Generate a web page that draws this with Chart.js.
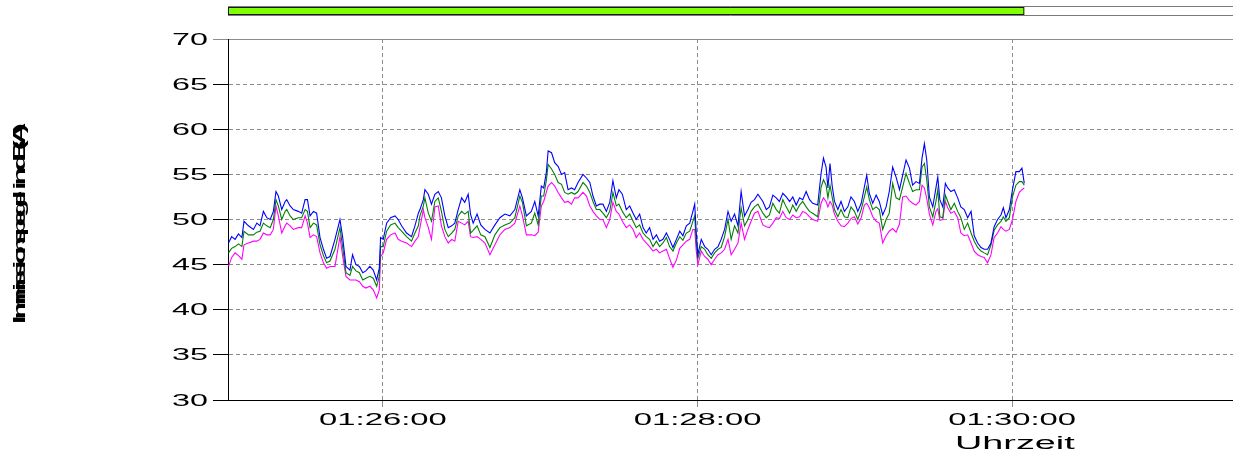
<!DOCTYPE html>
<html>
<head>
<meta charset="utf-8">
<title>Immissionspegel</title>
<script src="https://cdn.jsdelivr.net/npm/chart.js@4.4.1/dist/chart.umd.min.js"></script>
<style>
  html, body { margin: 0; padding: 0; background: #ffffff; }
  canvas { display: block; }
</style>
</head>
<body>
<canvas id="chart" width="1233" height="456"></canvas>
<script>
// Clock time of second 0 on the x axis
const baseTime = '01:25:00';

// Measurement times, seconds after baseTime
const seconds = [
  1.1, 2.3, 3.6, 4.9, 6.2, 7.0, 8.7, 10.6, 11.9, 13.1, 14.4, 15.7, 17.0, 18.2, 19.2, 20.1,
  21.4, 22.7, 23.3, 24.6, 25.8, 27.7, 29.0, 30.3, 31.2, 32.2, 33.5, 34.7, 36.0, 37.3, 38.5,
  39.8, 41.7, 43.6, 44.6, 45.9, 47.4, 48.4, 49.7, 51.0, 52.3, 53.5, 55.0, 56.3, 57.6, 58.6,
  59.1, 60.1, 61.4, 62.9, 64.6, 65.8, 67.1, 69.0, 70.9, 72.2, 73.5,
  74.1, 75.4, 76.0, 77.3, 78.5, 79.8, 81.1, 82.3, 83.6, 84.9, 86.2, 87.4, 88.7, 90.0, 91.2,
  92.5, 93.4, 94.4, 95.9, 97.3, 98.9, 100.8, 102.7, 104.6, 106.5, 108.4, 110.3, 112.2, 113.2,
  114.7, 116.6, 117.9, 119.2, 120.4, 121.3, 122.3, 123.0, 124.3, 125.5, 126.8, 128.1, 129.3,
  130.6, 131.9, 133.1, 134.4, 136.3, 137.6, 138.9, 140.1, 141.4, 142.7,
  143.9, 145.2, 146.5, 147.7, 149.0, 150.0, 151.3, 152.8, 154.1, 155.4, 156.6, 157.9, 159.2,
  160.4, 161.7, 163.0, 164.3, 165.5, 166.8, 168.1, 169.3, 170.6, 171.9, 173.2, 174.4, 175.7,
  177.0, 178.2, 178.9, 179.5, 180.1, 181.4, 182.7, 183.9, 185.2, 186.5, 187.8, 189.0, 190.3,
  191.6, 192.8, 194.1, 195.4, 196.6, 197.9, 199.2, 200.4, 201.7, 203.0,
  204.9, 206.2, 207.4, 208.7, 210.0, 211.2, 212.5, 213.8, 215.1, 216.3, 217.6, 218.9, 220.1,
  221.4, 222.7, 223.9, 225.8, 227.1, 228.0, 229.0, 229.7, 230.5, 231.3, 232.2, 233.5, 234.7,
  236.0, 237.3, 238.5, 239.8, 241.1, 242.4, 243.6, 244.5, 245.5, 246.8, 248.1, 249.3, 250.6,
  251.9, 253.1, 254.4, 255.7, 257.0, 258.2, 259.5, 260.8, 262.0, 263.3, 264.6, 265.6, 266.5,
  267.4, 268.4, 269.7, 270.9, 271.6, 272.4, 273.5, 274.5, 275.4, 276.6, 277.9, 279.2, 280.4,
  281.7, 283.0, 284.3, 285.5, 286.8, 288.1, 289.3, 290.6, 291.9, 293.1, 294.4, 295.7, 296.6,
  297.6, 298.9, 300.1, 301.4, 302.7, 303.7, 304.6
];

// Level, blue trace (dB(A))
const levelBlue = [
  47.4, 48.1, 47.8, 48.4, 48.0, 49.8, 49.3, 48.9, 49.6, 49.3, 50.9, 50.2, 50.0, 50.9, 53.1, 52.6,
  51.1, 52.0, 52.2, 51.5, 51.1, 50.9, 50.7, 52.2, 52.2, 50.4, 50.9, 50.7, 48.0, 46.7, 45.7,
  45.9, 47.8, 50.0, 48.1, 44.8, 44.4, 46.1, 45.0, 44.8, 44.1, 44.3, 44.8, 44.4, 43.3, 44.6,
  48.0, 47.8, 49.6, 50.2, 50.4, 50.0, 49.3, 48.5, 48.1, 49.3, 50.7,
  51.1, 52.2, 53.3, 52.8, 51.7, 52.8, 53.1, 52.4, 50.4, 49.1, 49.3, 49.6, 51.1, 52.4, 51.9,
  52.8, 50.6, 49.6, 50.6, 49.4, 48.9, 48.5, 49.4, 50.2, 50.6, 50.4, 51.1, 53.3, 52.4,
  50.4, 50.9, 52.0, 50.4, 53.7, 53.5, 55.2, 57.6, 57.4, 56.3, 55.9, 55.0, 55.2,
  53.3, 53.5, 53.3, 54.1, 55.0, 54.6, 54.1, 52.6, 51.5, 51.7,
  51.7, 50.9, 51.9, 54.3, 52.4, 53.3, 52.8, 51.1, 51.5, 50.7, 50.0, 50.6, 49.1,
  48.5, 49.1, 47.8, 48.3, 47.6, 47.8, 48.5, 47.8, 46.9, 47.8, 48.7, 48.2, 49.3,
  49.6, 50.9, 51.7, 48.5, 46.1, 47.8, 47.0, 46.7, 46.1, 46.7, 47.0, 47.8, 48.9,
  50.9, 49.8, 50.6, 49.3, 53.1, 50.4, 51.1, 51.9, 52.2, 52.8,
  52.0, 51.1, 51.4, 52.7, 52.4, 52.0, 52.9, 52.5, 52.0, 52.5, 51.6, 52.4, 52.2,
  53.1, 52.2, 51.8, 51.6, 55.1, 56.8, 55.8, 53.5, 56.2, 53.8, 52.0, 51.1, 52.0,
  50.9, 51.4, 52.5, 52.0, 50.9, 51.8, 53.6, 54.9, 52.9, 51.8, 52.7, 52.0, 50.5,
  51.4, 53.1, 55.8, 54.7, 53.3, 54.9, 56.6, 55.7, 53.8, 54.2, 54.0, 56.8, 58.4,
  56.6, 52.5, 51.4, 53.5, 54.7, 52.2, 51.4, 54.0, 53.5, 53.1, 53.3, 52.4, 51.4,
  51.1, 50.2, 50.9, 48.2, 47.4, 46.9, 46.7, 46.7, 47.4, 49.2, 50.0, 50.5, 51.3,
  50.2, 51.1, 53.3, 55.3, 55.3, 55.7, 54.0
];

// Level, green trace (dB(A))
const levelGreen = [
  46.3, 46.8, 47.0, 47.3, 47.0, 48.7, 48.3, 48.3, 48.6, 48.7, 49.6, 49.3, 49.1, 50.0, 52.2, 51.5,
  50.0, 50.9, 51.1, 50.4, 50.0, 50.2, 50.2, 51.1, 50.9, 49.1, 49.6, 49.4, 47.2, 46.0, 45.2,
  45.4, 46.7, 49.1, 47.0, 44.1, 43.8, 44.8, 44.3, 44.1, 43.3, 43.5, 43.7, 43.5, 42.6, 43.7,
  47.0, 47.0, 48.7, 49.4, 49.6, 49.1, 48.7, 48.1, 47.6, 48.5, 49.3,
  50.4, 51.5, 52.4, 50.7, 49.8, 52.0, 52.4, 50.9, 48.9, 48.1, 48.5, 48.9, 50.4, 50.9, 50.6,
  50.9, 48.5, 48.8, 49.3, 48.3, 48.1, 46.9, 48.3, 49.1, 49.4, 49.6, 50.2, 52.6, 51.9,
  49.3, 49.6, 50.7, 49.4, 52.6, 52.6, 54.3, 56.1, 55.6, 55.0, 54.1, 53.9, 53.0,
  52.8, 53.0, 52.8, 53.1, 54.1, 53.7, 53.0, 52.0, 51.1, 51.1,
  50.7, 50.2, 50.9, 53.0, 51.5, 51.7, 50.9, 50.2, 50.6, 49.8, 49.1, 49.4, 48.5,
  48.1, 47.8, 47.0, 47.6, 47.0, 47.4, 48.0, 47.0, 46.5, 47.4, 48.1, 47.7, 48.5,
  48.7, 49.8, 50.4, 47.4, 45.7, 47.0, 46.7, 46.1, 45.7, 46.3, 46.7, 46.9, 48.1,
  50.0, 47.8, 49.3, 48.5, 51.3, 49.3, 50.0, 50.9, 51.4, 51.7,
  50.7, 50.2, 50.5, 51.8, 51.1, 50.7, 52.2, 51.4, 50.7, 51.6, 50.9, 51.6, 52.0,
  51.4, 50.9, 50.7, 50.3, 53.6, 54.4, 53.8, 52.4, 53.8, 52.5, 51.1, 50.3, 51.1,
  50.3, 50.2, 51.4, 50.9, 50.0, 51.1, 52.5, 53.6, 52.2, 51.1, 51.4, 51.1, 48.9,
  50.0, 50.7, 54.0, 52.4, 52.2, 53.6, 55.1, 54.0, 53.1, 53.3, 53.3, 55.8, 56.2,
  54.4, 51.4, 50.3, 52.0, 53.3, 50.3, 50.2, 52.7, 52.0, 51.1, 51.8, 50.9, 50.2,
  48.9, 49.6, 48.5, 47.6, 46.9, 46.5, 46.3, 46.1, 47.2, 48.8, 49.4, 49.8, 50.3,
  49.8, 50.2, 52.5, 53.8, 54.2, 54.2, 53.8
];

// Level, magenta trace (dB(A))
const levelMagenta = [
  44.8, 45.8, 46.3, 46.0, 45.6, 47.2, 47.4, 47.6, 47.6, 47.8, 48.5, 48.3, 48.3, 48.9, 51.5, 50.4,
  48.5, 49.3, 49.6, 49.3, 48.9, 49.1, 49.1, 50.4, 49.6, 48.0, 48.3, 48.1, 46.3, 45.2, 44.6,
  44.8, 44.8, 48.1, 46.0, 43.7, 43.3, 43.3, 43.3, 43.1, 42.6, 42.4, 42.6, 42.2, 41.3, 42.2,
  45.9, 46.3, 47.8, 48.3, 48.5, 47.8, 47.6, 47.4, 47.0, 47.6, 48.1,
  49.1, 51.1, 50.2, 49.1, 47.8, 51.4, 51.5, 49.3, 48.1, 47.4, 47.8, 47.6, 49.8, 49.6, 49.4,
  49.8, 48.1, 48.0, 48.1, 47.8, 47.4, 46.1, 47.2, 48.3, 48.9, 49.1, 49.6, 51.5, 50.4,
  48.3, 48.3, 48.2, 48.6, 51.5, 52.0, 53.0, 53.7, 54.1, 53.7, 53.0, 52.4, 51.9,
  52.0, 51.7, 52.4, 52.4, 53.0, 52.6, 51.5, 50.9, 50.4, 50.0,
  50.0, 49.1, 50.0, 51.9, 50.9, 50.6, 49.8, 49.1, 49.4, 48.9, 48.0, 48.5, 47.8,
  47.4, 47.0, 46.5, 46.7, 46.3, 46.5, 46.7, 45.7, 44.7, 45.5, 46.8, 47.2, 47.6,
  47.8, 48.9, 48.9, 46.5, 45.0, 46.5, 45.9, 45.6, 45.0, 45.6, 46.1, 46.3, 46.7,
  47.8, 46.1, 46.7, 47.4, 49.6, 47.8, 48.9, 49.8, 50.7, 50.9,
  49.4, 49.2, 49.1, 49.6, 50.2, 50.1, 50.9, 50.2, 50.0, 50.5, 50.2, 50.3, 50.9,
  50.7, 50.3, 50.0, 49.8, 51.8, 52.4, 52.0, 51.4, 52.0, 51.6, 50.6, 49.8, 49.3,
  49.2, 49.6, 50.1, 50.3, 49.5, 50.2, 51.6, 51.8, 51.3, 50.3, 49.8, 49.6, 47.4,
  48.2, 48.7, 49.0, 48.6, 49.5, 52.5, 52.6, 52.1, 51.8, 51.6, 52.0, 53.8, 53.5,
  52.3, 50.6, 49.4, 50.9, 51.2, 49.9, 50.0, 52.0, 51.3, 50.7, 50.9, 50.2, 48.5,
  48.2, 48.3, 47.4, 46.5, 46.1, 45.9, 45.8, 45.2, 46.1, 48.0, 48.5, 49.2, 48.9,
  48.7, 48.9, 50.0, 52.0, 53.0, 53.3, 53.5
];

// Axis settings (values)
const yRange = [30, 70];
const yStep = 5;
const xRange = [0.9, 384.2];
const xTickSeconds = [60, 180, 300];
const yAxisTitle = 'Immissionspegel in dB(A)';
const xAxisTitle = 'Uhrzeit';

function clockLabel(sec) {
  const [h, m, s] = baseTime.split(':').map(Number);
  let t = h * 3600 + m * 60 + s + Math.round(sec);
  const hh = Math.floor(t / 3600); t -= hh * 3600;
  const mm = Math.floor(t / 60);
  const ss = t - mm * 60;
  const p = v => String(v).padStart(2, '0');
  return p(hh) + ':' + p(mm) + ':' + p(ss);
}

const FONT = '"Liberation Sans", Arial, sans-serif';
const GRID = '#8c8c8c';

// Text drawn horizontally widened, the way the instrument software renders it
function wideText(ctx, text, x, y, sx, align) {
  ctx.save();
  ctx.translate(x, y);
  ctx.scale(sx, 1);
  ctx.textAlign = align;
  ctx.textBaseline = 'alphabetic';
  ctx.fillText(text, 0, 0);
  ctx.restore();
}

// Progress strip above the plot: covers the recorded time span
const progressStrip = {
  id: 'progressStrip',
  afterDraw(chart) {
    const ctx = chart.ctx;
    const xs = chart.scales.x;
    const left = chart.chartArea.left;
    const end = xs.getPixelForValue(seconds[seconds.length - 1]);
    ctx.save();
    ctx.lineWidth = 1;
    ctx.strokeStyle = '#7a7a7a';
    ctx.beginPath();
    ctx.moveTo(left, 6.5); ctx.lineTo(chart.width, 6.5);
    ctx.moveTo(left, 15.5); ctx.lineTo(chart.width, 15.5);
    ctx.stroke();
    ctx.fillStyle = '#80ff00';
    ctx.fillRect(left, 7, end - left, 8);
    ctx.strokeStyle = '#1a1a1a';
    ctx.strokeRect(left + 0.5, 7.5, end - left - 1, 7);
    ctx.restore();
  }
};

// Tick labels and axis titles
const axisText = {
  id: 'axisText',
  afterDraw(chart) {
    const ctx = chart.ctx;
    const xs = chart.scales.x;
    const ys = chart.scales.y;
    ctx.save();
    ctx.fillStyle = '#000000';
    ctx.font = '17px ' + FONT;
    ys.ticks.forEach(t => {
      wideText(ctx, String(t.value), ys.right - 20, ys.getPixelForValue(t.value) + 5.5, 1.9, 'right');
    });
    xs.ticks.forEach(t => {
      wideText(ctx, clockLabel(t.value), xs.getPixelForValue(t.value), xs.top + 24.5, 1.93, 'center');
    });
    ctx.font = '18px ' + FONT;
    wideText(ctx, xAxisTitle, xs.getPixelForValue(301), xs.top + 49, 2.1, 'center');

    // vertical title: widened glyphs on a normal advance, so they crowd together
    ctx.font = 'bold 16px ' + FONT;
    const chars = [...yAxisTitle];
    const adv = chars.map(c => ctx.measureText(c).width);
    const total = adv.reduce((a, b) => a + b, 0);
    const len = 196;
    const k = len / total;
    ctx.translate(25, 226 + len / 2);
    ctx.rotate(-Math.PI / 2);
    let pos = 0;
    chars.forEach((c, i) => {
      wideText(ctx, c, pos, 0, 1.9, 'left');
      pos += adv[i] * k;
    });
    ctx.restore();
  }
};

const toPoints = vals => seconds.map((s, i) => ({ x: s, y: vals[i] }));

new Chart(document.getElementById('chart'), {
  type: 'line',
  data: {
    datasets: [
      { label: 'blau', data: toPoints(levelBlue), borderColor: '#0000ff' },
      { label: 'grün', data: toPoints(levelGreen), borderColor: '#008000' },
      { label: 'magenta', data: toPoints(levelMagenta), borderColor: '#ff00ff' }
    ]
  },
  options: {
    responsive: false,
    animation: false,
    events: [],
    layout: { padding: { top: 39, right: 0, left: 0, bottom: 0 } },
    elements: {
      point: { radius: 0 },
      line: { borderWidth: 1.1, tension: 0, fill: false }
    },
    plugins: {
      legend: { display: false },
      tooltip: { enabled: false }
    },
    scales: {
      x: {
        type: 'linear',
        min: xRange[0],
        max: xRange[1],
        afterBuildTicks: s => { s.ticks = xTickSeconds.map(v => ({ value: v })); },
        afterFit: s => { s.height = 56; },
        ticks: { display: false },
        grid: { color: GRID, lineWidth: 1, tickLength: 7, tickColor: GRID, drawTicks: true },
        border: { display: true, color: '#000000', width: 1, dash: [4, 3] }
      },
      y: {
        min: yRange[0],
        max: yRange[1],
        ticks: { display: false, stepSize: yStep },
        afterFit: s => { s.width = 228; },
        grid: {
          color: GRID,
          lineWidth: 1,
          tickLength: 15,
          drawTicks: true,
          tickColor: c => (c.tick && c.tick.value === yRange[1]) ? GRID : '#000000'
        },
        border: {
          display: true,
          color: '#000000',
          width: 1,
          dash: c => (c.tick && c.tick.value === yRange[1]) ? [] : [4, 3]
        }
      }
    }
  },
  plugins: [progressStrip, axisText]
});
</script>
</body>
</html>
